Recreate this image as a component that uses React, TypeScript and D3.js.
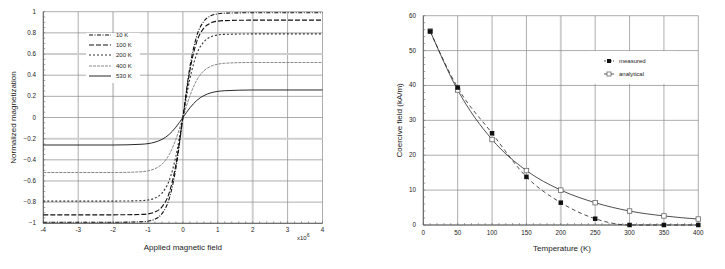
import { useEffect, useRef } from "react"
import * as d3 from "d3"

// ---- left chart: magnetization curves ----
const fieldValues = [-4, -2, -1.2, -1, -0.8, -0.6, -0.4, -0.2, 0, 0.2, 0.4, 0.6, 0.8, 1, 1.2, 2, 4]
const m10K = [-0.99, -0.99, -0.986, -0.98, -0.961, -0.909, -0.775, -0.478, 0, 0.478, 0.775, 0.909, 0.961, 0.98, 0.986, 0.99, 0.99]
const m100K = [-0.92, -0.92, -0.916, -0.911, -0.893, -0.845, -0.72, -0.444, 0, 0.444, 0.72, 0.845, 0.893, 0.911, 0.916, 0.92, 0.92]
const m200K = [-0.79, -0.79, -0.786, -0.78, -0.762, -0.715, -0.602, -0.365, 0, 0.365, 0.602, 0.715, 0.762, 0.78, 0.786, 0.79, 0.79]
const m400K = [-0.52, -0.52, -0.513, -0.504, -0.484, -0.441, -0.355, -0.205, 0, 0.205, 0.355, 0.441, 0.484, 0.504, 0.513, 0.52, 0.52]
const m530K = [-0.26, -0.26, -0.253, -0.247, -0.233, -0.207, -0.162, -0.091, 0, 0.091, 0.162, 0.207, 0.233, 0.247, 0.253, 0.26, 0.26]
const seriesLabels = ["10 K", "100 K", "200 K", "400 K", "530 K"]
const leftXTicks = [-4, -3, -2, -1, 0, 1, 2, 3, 4]
const leftYTicks = [-1, -0.8, -0.6, -0.4, -0.2, 0, 0.2, 0.4, 0.6, 0.8, 1]

// ---- right chart: coercive field ----
const temperatures = [10, 50, 100, 150, 200, 250, 300, 350, 400]
const measured = [55.5, 39.4, 26.3, 13.8, 6.4, 1.8, 0, 0, 0]
const analytical = [55.6, 38.7, 24.5, 15.6, 10.0, 6.4, 4.0, 2.6, 1.7]
const rightXTicks = [0, 50, 100, 150, 200, 250, 300, 350, 400]
const rightYTicks = [0, 10, 20, 30, 40, 50, 60]

const FONT = "'Liberation Sans', Arial, sans-serif"

export default function App() {
  const svgRef = useRef<SVGSVGElement>(null)

  useEffect(() => {
    if (!svgRef.current) return
    const svg = d3.select(svgRef.current)
    svg.selectAll("*").remove()

    svg.append("rect").attr("width", 725).attr("height", 269).attr("fill", "white")

    // ================= LEFT =================
    const x1 = d3.scaleLinear().domain([-4, 4]).range([43.3, 322.5])
    const y1 = d3.scaleLinear().domain([-1, 1]).range([223.3, 11.7])
    const g1 = svg.append("g")

    const lightX1 = [-2, 2]
    const lightY1 = [0.6, -0.2]

    // grid
    leftXTicks.forEach((t) => {
      const light = lightX1.includes(t)
      g1.append("line")
        .attr("x1", x1(t)).attr("x2", x1(t))
        .attr("y1", y1(-1)).attr("y2", y1(1))
        .attr("stroke", light ? "#cfcfcf" : "#8a8a8a")
        .attr("stroke-width", light ? 2 : 0.7)
    })
    leftYTicks.forEach((t) => {
      const light = lightY1.some((v) => Math.abs(v - t) < 1e-9)
      g1.append("line")
        .attr("x1", x1(-4)).attr("x2", x1(4))
        .attr("y1", y1(t)).attr("y2", y1(t))
        .attr("stroke", light ? "#cfcfcf" : "#8a8a8a")
        .attr("stroke-width", light ? 2 : 0.7)
    })
    // frame axes
    g1.append("line").attr("x1", x1(-4)).attr("x2", x1(-4)).attr("y1", y1(-1)).attr("y2", y1(1)).attr("stroke", "#555").attr("stroke-width", 0.9)
    g1.append("line").attr("x1", x1(-4)).attr("x2", x1(4)).attr("y1", y1(-1)).attr("y2", y1(-1)).attr("stroke", "#555").attr("stroke-width", 0.9)

    // minor ticks
    d3.range(-4, 4.001, 0.2).forEach((t) => {
      g1.append("line").attr("x1", x1(t)).attr("x2", x1(t)).attr("y1", y1(-1)).attr("y2", y1(-1) - 2).attr("stroke", "#666").attr("stroke-width", 0.6)
    })
    d3.range(-1, 1.001, 0.05).forEach((t) => {
      g1.append("line").attr("x1", x1(-4)).attr("x2", x1(-4) + 2).attr("y1", y1(t)).attr("y2", y1(t)).attr("stroke", "#666").attr("stroke-width", 0.6)
    })

    // tick labels
    leftXTicks.forEach((t) => {
      g1.append("text").attr("x", x1(t)).attr("y", 232).attr("text-anchor", "middle")
        .attr("font-size", 6.3).attr("font-family", FONT).attr("fill", "#222").text(String(t))
    })
    leftYTicks.forEach((t) => {
      g1.append("text").attr("x", 36).attr("y", y1(t) + 2).attr("text-anchor", "end")
        .attr("font-size", 6.3).attr("font-family", FONT).attr("fill", "#222").text(d3.format("")(+t.toFixed(1)))
    })
    g1.append("text").attr("x", 297).attr("y", 240).attr("font-size", 6).attr("font-family", FONT).attr("fill", "#222")
      .text("x10").append("tspan").attr("dy", -3).attr("font-size", 5).text("6")
    g1.append("text").attr("x", x1(0)).attr("y", 250).attr("text-anchor", "middle")
      .attr("font-size", 8).attr("font-family", FONT).attr("fill", "#222").text("Applied magnetic field")
    g1.append("text").attr("transform", `translate(16,${y1(0)}) rotate(-90)`).attr("text-anchor", "middle")
      .attr("font-size", 8).attr("font-family", FONT).attr("fill", "#222").text("Normalized magnetization")

    // legend box
    g1.append("rect").attr("x", 86).attr("y", 33).attr("width", 54).attr("height", 50).attr("fill", "white")

    const styles = [
      { stroke: "#111", dash: "4,1.5,1,1.5", width: 1.1 },
      { stroke: "#111", dash: "5,2", width: 1.1 },
      { stroke: "#333", dash: "2,2", width: 1.1 },
      { stroke: "#888", dash: "3,1", width: 1 },
      { stroke: "#111", dash: null as string | null, width: 0.9 },
    ]
    const allSeries = [m10K, m100K, m200K, m400K, m530K]
    const line1 = d3.line<number>()
      .x((_, i) => x1(fieldValues[i]))
      .y((d) => y1(d))
      .curve(d3.curveMonotoneX)

    // draw series bottom to top so solid ones sit above
    allSeries.map((s, i) => ({ s, i })).reverse().forEach(({ s, i }) => {
      const st = styles[i]
      g1.append("path").attr("d", line1(s)!).attr("fill", "none")
        .attr("stroke", st.stroke).attr("stroke-width", st.width)
        .attr("stroke-dasharray", st.dash)
    })

    const legendY = [35, 45, 55, 66, 76]
    seriesLabels.forEach((lab, i) => {
      const st = styles[i]
      g1.append("line").attr("x1", 89).attr("x2", 111).attr("y1", legendY[i]).attr("y2", legendY[i])
        .attr("stroke", st.stroke).attr("stroke-width", st.width).attr("stroke-dasharray", st.dash)
      g1.append("text").attr("x", 116).attr("y", legendY[i] + 2).attr("font-size", 6).attr("font-family", FONT)
        .attr("fill", "#222").text(lab)
    })

    // ================= RIGHT =================
    const x2 = d3.scaleLinear().domain([0, 400]).range([423.3, 698.3])
    const y2 = d3.scaleLinear().domain([0, 60]).range([225, 15.7])
    const g2 = svg.append("g")

    rightXTicks.forEach((t) => {
      const light = t === 200
      g2.append("line").attr("x1", x2(t)).attr("x2", x2(t)).attr("y1", y2(0)).attr("y2", y2(60))
        .attr("stroke", light ? "#cfcfcf" : "#8a8a8a").attr("stroke-width", light ? 2 : 0.7)
    })
    rightYTicks.forEach((t) => {
      g2.append("line").attr("x1", x2(0)).attr("x2", x2(400)).attr("y1", y2(t)).attr("y2", y2(t))
        .attr("stroke", "#8a8a8a").attr("stroke-width", 0.7)
    })
    g2.append("line").attr("x1", x2(0)).attr("x2", x2(0)).attr("y1", y2(0)).attr("y2", y2(60)).attr("stroke", "#555").attr("stroke-width", 0.9)
    g2.append("line").attr("x1", x2(0)).attr("x2", x2(400)).attr("y1", y2(0)).attr("y2", y2(0)).attr("stroke", "#555").attr("stroke-width", 0.9)

    d3.range(0, 401, 10).forEach((t) => {
      g2.append("line").attr("x1", x2(t)).attr("x2", x2(t)).attr("y1", y2(0)).attr("y2", y2(0) - 2).attr("stroke", "#666").attr("stroke-width", 0.6)
    })
    d3.range(0, 61, 2).forEach((t) => {
      g2.append("line").attr("x1", x2(0)).attr("x2", x2(0) + 2).attr("y1", y2(t)).attr("y2", y2(t)).attr("stroke", "#666").attr("stroke-width", 0.6)
    })

    rightXTicks.forEach((t) => {
      g2.append("text").attr("x", x2(t)).attr("y", 235).attr("text-anchor", "middle")
        .attr("font-size", 6.3).attr("font-family", FONT).attr("fill", "#222").text(String(t))
    })
    rightYTicks.forEach((t) => {
      g2.append("text").attr("x", 416).attr("y", y2(t) + 2).attr("text-anchor", "end")
        .attr("font-size", 6.3).attr("font-family", FONT).attr("fill", "#222").text(String(t))
    })
    g2.append("text").attr("x", 562).attr("y", 251).attr("text-anchor", "middle")
      .attr("font-size", 8).attr("font-family", FONT).attr("fill", "#222").text("Temperature (K)")
    g2.append("text").attr("transform", `translate(402,${y2(30)}) rotate(-90)`).attr("text-anchor", "middle")
      .attr("font-size", 8).attr("font-family", FONT).attr("fill", "#222").text("Coercive field (kA/m)")

    // legend box
    g2.append("rect").attr("x", 590).attr("y", 51).attr("width", 85).attr("height", 33).attr("fill", "white")

    const line2 = d3.line<number>()
      .x((_, i) => x2(temperatures[i]))
      .y((d) => y2(d))
      .curve(d3.curveMonotoneX)

    g2.append("path").attr("d", line2(analytical)!).attr("fill", "none").attr("stroke", "#222").attr("stroke-width", 0.8)
    g2.append("path").attr("d", line2(measured)!).attr("fill", "none").attr("stroke", "#222").attr("stroke-width", 0.8)
      .attr("stroke-dasharray", "4,3")

    const sq = 4.5
    analytical.forEach((v, i) => {
      g2.append("rect").attr("x", x2(temperatures[i]) - sq / 2).attr("y", y2(v) - sq / 2).attr("width", sq).attr("height", sq)
        .attr("fill", "white").attr("stroke", "#666").attr("stroke-width", 0.8)
    })
    measured.forEach((v, i) => {
      g2.append("rect").attr("x", x2(temperatures[i]) - sq / 2).attr("y", y2(v) - sq / 2).attr("width", sq).attr("height", sq)
        .attr("fill", "#111")
    })

    const legendItems = [
      { label: "measured", y: 61, filled: true },
      { label: "analytical", y: 74, filled: false },
    ]
    legendItems.forEach((it) => {
      g2.append("line").attr("x1", 604).attr("x2", 614).attr("y1", it.y).attr("y2", it.y)
        .attr("stroke", "#222").attr("stroke-width", 0.8).attr("stroke-dasharray", it.filled ? "2,1" : null)
      g2.append("rect").attr("x", 609 - 2).attr("y", it.y - 2).attr("width", 4).attr("height", 4)
        .attr("fill", it.filled ? "#111" : "white").attr("stroke", it.filled ? "none" : "#666").attr("stroke-width", 0.8)
      g2.append("text").attr("x", 619).attr("y", it.y + 2).attr("font-size", 6).attr("font-family", FONT)
        .attr("fill", "#222").text(it.label)
    })
  }, [])

  return (
    <svg
      ref={svgRef}
      width={725}
      height={269}
      style={{ position: "absolute", left: 0, top: 0, display: "block" }}
    ></svg>
  )
}
